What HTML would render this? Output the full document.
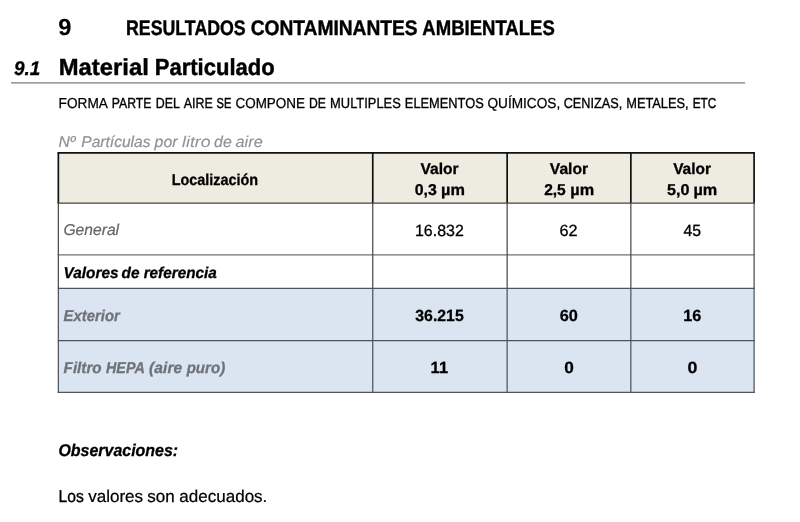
<!DOCTYPE html>
<html lang="es">
<head>
<meta charset="utf-8">
<title>Resultados contaminantes ambientales</title>
<style>
html,body{margin:0;padding:0;background:#fff;}
body{width:800px;height:522px;overflow:hidden;position:relative;font-family:"Liberation Sans",sans-serif;}
.gfx{position:absolute;left:0;top:0;display:block;}
h1,h2,p,table,tr,th,td{margin:0;padding:0;border:0;font:inherit;}
table{border-collapse:collapse;border-spacing:0;}
.t{position:absolute;left:0;top:0;margin:0;padding:0;white-space:nowrap;line-height:1;transform-origin:0 0;font-weight:400;font-style:normal;text-rendering:geometricPrecision;}
</style>
</head>
<body>
<svg class="gfx" width="800" height="522" viewBox="0 0 800 522">
<line x1="11" y1="82.9" x2="745.2" y2="82.9" stroke="#7c7c7c" stroke-width="1.4"/>
<rect x="58.35" y="152.85" width="695.75" height="50.25" fill="#eeece1"/>
<rect x="58.35" y="288.45" width="695.75" height="103.94999999999999" fill="#dbe5f1"/>
<line x1="57.725" y1="254.9" x2="754.725" y2="254.9" stroke="#707070" stroke-width="1.25"/>
<line x1="57.725" y1="288.45" x2="754.725" y2="288.45" stroke="#4f545b" stroke-width="1.25"/>
<line x1="57.725" y1="340.5" x2="754.725" y2="340.5" stroke="#4f545b" stroke-width="1.25"/>
<line x1="57.725" y1="392.4" x2="754.725" y2="392.4" stroke="#4f545b" stroke-width="1.25"/>
<line x1="58.35" y1="203.1" x2="58.35" y2="288.45" stroke="#4c4c4c" stroke-width="1.25"/>
<line x1="58.35" y1="288.45" x2="58.35" y2="393.025" stroke="#4f545b" stroke-width="1.25"/>
<line x1="372.75" y1="203.1" x2="372.75" y2="288.45" stroke="#4c4c4c" stroke-width="1.25"/>
<line x1="372.75" y1="288.45" x2="372.75" y2="393.025" stroke="#4f545b" stroke-width="1.25"/>
<line x1="507.15" y1="203.1" x2="507.15" y2="288.45" stroke="#4c4c4c" stroke-width="1.25"/>
<line x1="507.15" y1="288.45" x2="507.15" y2="393.025" stroke="#4f545b" stroke-width="1.25"/>
<line x1="630.85" y1="203.1" x2="630.85" y2="288.45" stroke="#4c4c4c" stroke-width="1.25"/>
<line x1="630.85" y1="288.45" x2="630.85" y2="393.025" stroke="#4f545b" stroke-width="1.25"/>
<line x1="754.1" y1="203.1" x2="754.1" y2="288.45" stroke="#4c4c4c" stroke-width="1.25"/>
<line x1="754.1" y1="288.45" x2="754.1" y2="393.025" stroke="#4f545b" stroke-width="1.25"/>
<line x1="57.5" y1="152.85" x2="754.95" y2="152.85" stroke="#111" stroke-width="1.7"/>
<line x1="58.35" y1="152.85" x2="58.35" y2="203.1" stroke="#111" stroke-width="1.7"/>
<line x1="372.75" y1="152.85" x2="372.75" y2="203.1" stroke="#111" stroke-width="1.7"/>
<line x1="507.15" y1="152.85" x2="507.15" y2="203.1" stroke="#111" stroke-width="1.7"/>
<line x1="630.85" y1="152.85" x2="630.85" y2="203.1" stroke="#111" stroke-width="1.7"/>
<line x1="754.1" y1="152.85" x2="754.1" y2="203.1" stroke="#111" stroke-width="1.7"/>
<line x1="57.5" y1="203.1" x2="754.95" y2="203.1" stroke="#444" stroke-width="1.4"/>
</svg>
<h1><span class="t" id="h1n" style="font-size:23.3px;font-weight:700;font-style:normal;color:#000;transform:translate(58.16px,15.75px) scaleX(1.0159);-webkit-text-stroke:0.15px">9</span> <span class="t" id="h1_0" style="font-size:21.0px;font-weight:700;font-style:normal;color:#000;transform:translate(126.01px,17.50px) scaleX(0.8455);-webkit-text-stroke:0.4px">RESULTADOS</span> <span class="t" id="h1_1" style="font-size:21.0px;font-weight:700;font-style:normal;color:#000;transform:translate(250.63px,17.50px) scaleX(0.9136);-webkit-text-stroke:0.4px">CONTAMINANTES</span> <span class="t" id="h1_2" style="font-size:21.0px;font-weight:700;font-style:normal;color:#000;transform:translate(422.33px,17.50px) scaleX(0.8825);-webkit-text-stroke:0.4px">AMBIENTALES</span></h1>
<h2><span class="t" id="h2n" style="font-size:19.8px;font-weight:700;font-style:italic;color:#000;transform:translate(13.89px,59.80px) scaleX(0.9565);-webkit-text-stroke:0.3px">9.1</span> <span class="t" id="h2_0" style="font-size:23.3px;font-weight:700;font-style:normal;color:#000;transform:translate(58.77px,55.50px) scaleX(1.0223);-webkit-text-stroke:0.45px">Material</span> <span class="t" id="h2_1" style="font-size:23.3px;font-weight:700;font-style:normal;color:#000;transform:translate(154.75px,55.50px) scaleX(0.9458);-webkit-text-stroke:0.45px">Particulado</span></h2>
<p><span class="t" id="p1_0" style="font-size:14.5px;font-weight:400;font-style:normal;color:#000;transform:translate(58.61px,97.30px) scaleX(0.9422);-webkit-text-stroke:0.26px">FORMA</span> <span class="t" id="p1_1" style="font-size:14.5px;font-weight:400;font-style:normal;color:#000;transform:translate(111.79px,97.30px) scaleX(0.8441);-webkit-text-stroke:0.37px">PARTE</span> <span class="t" id="p1_2" style="font-size:14.5px;font-weight:400;font-style:normal;color:#000;transform:translate(155.73px,97.30px) scaleX(0.8566);-webkit-text-stroke:0.36px">DEL</span> <span class="t" id="p1_3" style="font-size:14.5px;font-weight:400;font-style:normal;color:#000;transform:translate(183.67px,97.30px) scaleX(0.8613);-webkit-text-stroke:0.34px">AIRE</span> <span class="t" id="p1_4" style="font-size:14.5px;font-weight:400;font-style:normal;color:#000;transform:translate(216.60px,97.30px) scaleX(0.7640);-webkit-text-stroke:0.48px">SE</span> <span class="t" id="p1_5" style="font-size:14.5px;font-weight:400;font-style:normal;color:#000;transform:translate(235.53px,97.30px) scaleX(0.9265);-webkit-text-stroke:0.27px">COMPONE</span> <span class="t" id="p1_6" style="font-size:14.5px;font-weight:400;font-style:normal;color:#000;transform:translate(308.89px,97.30px) scaleX(0.8401);-webkit-text-stroke:0.35px">DE</span> <span class="t" id="p1_7" style="font-size:14.5px;font-weight:400;font-style:normal;color:#000;transform:translate(330.07px,97.30px) scaleX(0.8895);-webkit-text-stroke:0.32px">MULTIPLES</span> <span class="t" id="p1_8" style="font-size:14.5px;font-weight:400;font-style:normal;color:#000;transform:translate(404.85px,97.30px) scaleX(0.8844);-webkit-text-stroke:0.33px">ELEMENTOS</span> <span class="t" id="p1_9" style="font-size:14.5px;font-weight:400;font-style:normal;color:#000;transform:translate(487.44px,97.30px) scaleX(0.9408);-webkit-text-stroke:0.26px">QUÍMICOS,</span> <span class="t" id="p1_10" style="font-size:14.5px;font-weight:400;font-style:normal;color:#000;transform:translate(563.66px,97.30px) scaleX(0.8748);-webkit-text-stroke:0.34px">CENIZAS,</span> <span class="t" id="p1_11" style="font-size:14.5px;font-weight:400;font-style:normal;color:#000;transform:translate(626.21px,97.30px) scaleX(0.8831);-webkit-text-stroke:0.33px">METALES,</span> <span class="t" id="p1_12" style="font-size:14.5px;font-weight:400;font-style:normal;color:#000;transform:translate(692.64px,97.30px) scaleX(0.8132);-webkit-text-stroke:0.42px">ETC</span></p>
<p><span class="t" id="cap_0" style="font-size:15.6px;font-weight:400;font-style:italic;color:#929292;transform:translate(58.48px,135.00px) scaleX(1.0047);-webkit-text-stroke:0.23px">Nº</span> <span class="t" id="cap_1" style="font-size:15.6px;font-weight:400;font-style:italic;color:#929292;transform:translate(81.36px,135.00px) scaleX(0.9958);-webkit-text-stroke:0.24px">Partículas</span> <span class="t" id="cap_2" style="font-size:15.6px;font-weight:400;font-style:italic;color:#929292;transform:translate(154.56px,135.00px) scaleX(1.0168);-webkit-text-stroke:0.22px">por</span> <span class="t" id="cap_3" style="font-size:15.6px;font-weight:400;font-style:italic;color:#929292;transform:translate(182.02px,135.00px) scaleX(1.1348);-webkit-text-stroke:0.05px">litro</span> <span class="t" id="cap_4" style="font-size:15.6px;font-weight:400;font-style:italic;color:#929292;transform:translate(214.10px,135.00px) scaleX(1.0146);-webkit-text-stroke:0.23px">de</span> <span class="t" id="cap_5" style="font-size:15.6px;font-weight:400;font-style:italic;color:#929292;transform:translate(235.46px,135.00px) scaleX(1.0483);-webkit-text-stroke:0.16px">aire</span></p>
<table>
<tr><th><span class="t" id="th1" style="font-size:15.7px;font-weight:700;font-style:normal;color:#000;transform:translate(171.69px,172.70px) scaleX(0.9178);-webkit-text-stroke:0.3px">Localización</span></th><th><span class="t" id="th2a" style="font-size:15.7px;font-weight:700;font-style:normal;color:#000;transform:translate(420.44px,161.80px) scaleX(0.9932);-webkit-text-stroke:0.3px">Valor</span> <span class="t" id="th2b_0" style="font-size:15.7px;font-weight:700;font-style:normal;color:#000;transform:translate(414.66px,182.50px) scaleX(1.0116);-webkit-text-stroke:0.3px">0,3</span> <span class="t" id="th2b_1" style="font-size:15.7px;font-weight:700;font-style:normal;color:#000;transform:translate(441.07px,182.50px) scaleX(1.0369);-webkit-text-stroke:0.3px">µm</span></th><th><span class="t" id="th3a" style="font-size:15.7px;font-weight:700;font-style:normal;color:#000;transform:translate(549.82px,161.80px) scaleX(0.9985);-webkit-text-stroke:0.3px">Valor</span> <span class="t" id="th3b_0" style="font-size:15.7px;font-weight:700;font-style:normal;color:#000;transform:translate(544.13px,182.50px) scaleX(0.9925);-webkit-text-stroke:0.3px">2,5</span> <span class="t" id="th3b_1" style="font-size:15.7px;font-weight:700;font-style:normal;color:#000;transform:translate(570.34px,182.50px) scaleX(1.0353);-webkit-text-stroke:0.3px">µm</span></th><th><span class="t" id="th4a" style="font-size:15.7px;font-weight:700;font-style:normal;color:#000;transform:translate(673.13px,161.80px) scaleX(0.9868);-webkit-text-stroke:0.3px">Valor</span> <span class="t" id="th4b_0" style="font-size:15.7px;font-weight:700;font-style:normal;color:#000;transform:translate(666.97px,182.50px) scaleX(1.0296);-webkit-text-stroke:0.3px">5,0</span> <span class="t" id="th4b_1" style="font-size:15.7px;font-weight:700;font-style:normal;color:#000;transform:translate(693.43px,182.50px) scaleX(1.0361);-webkit-text-stroke:0.3px">µm</span></th></tr>
<tr><td><span class="t" id="r1a" style="font-size:15.7px;font-weight:400;font-style:italic;color:#676767;transform:translate(63.44px,223.30px) scaleX(0.9968);-webkit-text-stroke:0.22px">General</span></td><td><span class="t" id="r1b" style="font-size:16.2px;font-weight:400;font-style:normal;color:#000;transform:translate(414.99px,222.60px) scaleX(0.9862);-webkit-text-stroke:0.3px">16.832</span></td><td><span class="t" id="r1c" style="font-size:16.2px;font-weight:400;font-style:normal;color:#000;transform:translate(559.39px,222.60px) scaleX(1.0048);-webkit-text-stroke:0.3px">62</span></td><td><span class="t" id="r1d" style="font-size:16.2px;font-weight:400;font-style:normal;color:#000;transform:translate(683.43px,222.60px) scaleX(0.9724);-webkit-text-stroke:0.3px">45</span></td></tr>
<tr><td><span class="t" id="r2a_0" style="font-size:15.7px;font-weight:700;font-style:italic;color:#000;transform:translate(63.48px,266.00px) scaleX(0.9808);-webkit-text-stroke:0.3px">Valores</span> <span class="t" id="r2a_1" style="font-size:15.7px;font-weight:700;font-style:italic;color:#000;transform:translate(121.60px,266.00px) scaleX(0.9796);-webkit-text-stroke:0.3px">de</span> <span class="t" id="r2a_2" style="font-size:15.7px;font-weight:700;font-style:italic;color:#000;transform:translate(143.64px,266.00px) scaleX(0.9761);-webkit-text-stroke:0.3px">referencia</span></td><td></td><td></td><td></td></tr>
<tr><td><span class="t" id="r3a" style="font-size:15.7px;font-weight:700;font-style:italic;color:#6f7379;transform:translate(63.61px,308.80px) scaleX(0.9466);-webkit-text-stroke:0.3px">Exterior</span></td><td><span class="t" id="r3b" style="font-size:16.2px;font-weight:700;font-style:normal;color:#000;transform:translate(415.26px,307.80px) scaleX(0.9792);-webkit-text-stroke:0.25px">36.215</span></td><td><span class="t" id="r3c" style="font-size:16.2px;font-weight:700;font-style:normal;color:#000;transform:translate(559.63px,307.80px) scaleX(1.0084);-webkit-text-stroke:0.25px">60</span></td><td><span class="t" id="r3d" style="font-size:16.2px;font-weight:700;font-style:normal;color:#000;transform:translate(683.29px,307.80px) scaleX(1.0014);-webkit-text-stroke:0.25px">16</span></td></tr>
<tr><td><span class="t" id="r4a_0" style="font-size:15.7px;font-weight:700;font-style:italic;color:#6f7379;transform:translate(63.60px,360.50px) scaleX(0.9693);-webkit-text-stroke:0.3px">Filtro</span> <span class="t" id="r4a_1" style="font-size:15.7px;font-weight:700;font-style:italic;color:#6f7379;transform:translate(106.00px,360.50px) scaleX(0.9153);-webkit-text-stroke:0.3px">HEPA</span> <span class="t" id="r4a_2" style="font-size:15.7px;font-weight:700;font-style:italic;color:#6f7379;transform:translate(149.11px,360.50px) scaleX(0.9983);-webkit-text-stroke:0.3px">(aire</span> <span class="t" id="r4a_3" style="font-size:15.7px;font-weight:700;font-style:italic;color:#6f7379;transform:translate(186.66px,360.50px) scaleX(0.9615);-webkit-text-stroke:0.3px">puro)</span></td><td><span class="t" id="r4b" style="font-size:16.2px;font-weight:700;font-style:normal;color:#000;transform:translate(430.60px,359.50px) scaleX(1.0207);-webkit-text-stroke:0.25px">11</span></td><td><span class="t" id="r4c" style="font-size:16.2px;font-weight:700;font-style:normal;color:#000;transform:translate(564.27px,359.50px) scaleX(1.0641);-webkit-text-stroke:0.25px">0</span></td><td><span class="t" id="r4d" style="font-size:16.2px;font-weight:700;font-style:normal;color:#000;transform:translate(687.61px,359.50px) scaleX(1.1000);-webkit-text-stroke:0.25px">0</span></td></tr>
</table>
<p><span class="t" id="obs" style="font-size:17.0px;font-weight:700;font-style:italic;color:#000;transform:translate(58.40px,441.80px) scaleX(0.9389);-webkit-text-stroke:0.3px">Observaciones:</span></p>
<p><span class="t" id="txt_0" style="font-size:17.0px;font-weight:400;font-style:normal;color:#000;transform:translate(58.52px,488.10px) scaleX(0.9213);-webkit-text-stroke:0.35px">Los</span> <span class="t" id="txt_1" style="font-size:17.0px;font-weight:400;font-style:normal;color:#000;transform:translate(88.19px,488.10px) scaleX(1.0015);-webkit-text-stroke:0.23px">valores</span> <span class="t" id="txt_2" style="font-size:17.0px;font-weight:400;font-style:normal;color:#000;transform:translate(147.33px,488.10px) scaleX(0.9982);-webkit-text-stroke:0.26px">son</span> <span class="t" id="txt_3" style="font-size:17.0px;font-weight:400;font-style:normal;color:#000;transform:translate(179.33px,488.10px) scaleX(1.0011);-webkit-text-stroke:0.23px">adecuados.</span></p>
</body></html>
